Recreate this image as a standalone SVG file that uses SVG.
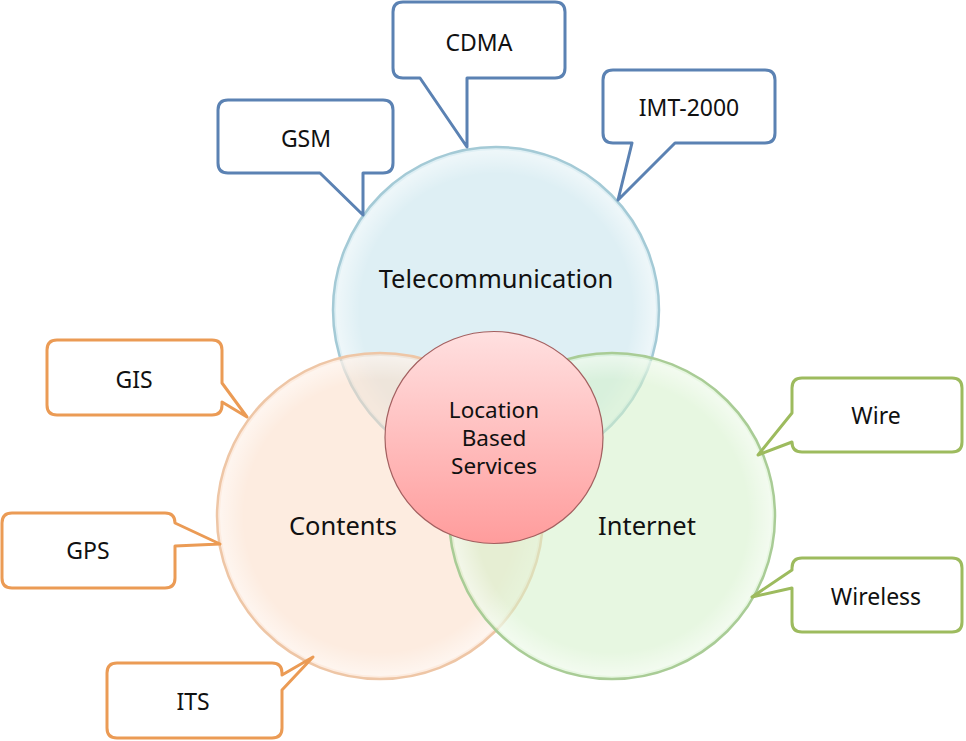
<svg xmlns="http://www.w3.org/2000/svg" width="966" height="741" viewBox="0 0 966 741">
<defs>
<linearGradient id="lbs" x1="0" y1="0" x2="0" y2="1">
<stop offset="0" stop-color="#ffe0e0"/>
<stop offset="1" stop-color="#ff9c9c"/>
</linearGradient>
<radialGradient id="gloss" cx="0.5" cy="0.5" r="0.5">
<stop offset="0.85" stop-color="#ffffff" stop-opacity="0"/>
<stop offset="1" stop-color="#ffffff" stop-opacity="0.5"/>
</radialGradient>
</defs>
<style>
text{font-family:"Noto Sans","Open Sans","Liberation Sans",sans-serif;fill:#111;text-anchor:middle}
.big{font-size:25.5px}
.lbl{font-size:23px}
.mid{font-size:22.5px}
.co{fill:#fff;stroke-width:3;stroke-linejoin:round}
.blue{stroke:#5b82b3}
.orange{stroke:#eb9b55}
.green{stroke:#9dbb5e}
</style>
<rect width="966" height="741" fill="#fff"/>
<g id="circles">
<g id="telecom">
<circle cx="496" cy="310" r="163" fill="#c2e1eb" fill-opacity="0.55" stroke="#a4cad6" stroke-width="2.5"/>
<circle cx="496" cy="310" r="160" fill="url(#gloss)"/>
</g>
<g id="contents">
<circle cx="380" cy="516" r="163" fill="#fbdcc6" fill-opacity="0.55" stroke="#eec6a6" stroke-width="2.5"/>
<circle cx="380" cy="516" r="160" fill="url(#gloss)"/>
</g>
<g id="internet">
<circle cx="612" cy="516" r="163" fill="#d3f1c8" fill-opacity="0.55" stroke="#a9cc96" stroke-width="2.5"/>
<circle cx="612" cy="516" r="160" fill="url(#gloss)"/>
</g>
<g id="lbs">
<ellipse cx="494" cy="437.5" rx="109" ry="106" fill="url(#lbs)" stroke="#a36060" stroke-width="1.2"/>
</g>
</g>
<g id="labels">
<text class="big" x="496" y="288">Telecommunication</text>
<text class="big" x="343" y="535">Contents</text>
<text class="big" x="647" y="535">Internet</text>
<text class="mid" x="494" y="418">Location</text>
<text class="mid" x="494" y="446">Based</text>
<text class="mid" x="494" y="474">Services</text>
</g>
<g id="callouts">
<g id="gsm"><path class="co blue" d="M228,100 H383 Q393,100 393,110 V163 Q393,173 383,173 H363 L363,215 L320,173 H228 Q218,173 218,163 V110 Q218,100 228,100 Z"/><text class="lbl" x="306" y="147">GSM</text></g>
<g id="cdma"><path class="co blue" d="M403,2 H555 Q565,2 565,12 V68 Q565,78 555,78 H467 L467,147 L420,78 H403 Q393,78 393,68 V12 Q393,2 403,2 Z"/><text class="lbl" x="479" y="51">CDMA</text></g>
<g id="imt"><path class="co blue" d="M613,70 H765 Q775,70 775,80 V133 Q775,143 765,143 H675 L618,200 L632,143 H613 Q603,143 603,133 V80 Q603,70 613,70 Z"/><text class="lbl" x="689" y="116">IMT-2000</text></g>
<g id="gis"><path class="co orange" d="M57,340 H212 Q222,340 222,350 V383 L247,417 L222,402 V405 Q222,415 212,415 H57 Q47,415 47,405 V350 Q47,340 57,340 Z"/><text class="lbl" x="134" y="388">GIS</text></g>
<g id="gps"><path class="co orange" d="M12,513 H165 Q175,513 175,523 L220,544 L175,546 V578 Q175,588 165,588 H12 Q2,588 2,578 V523 Q2,513 12,513 Z"/><text class="lbl" x="88" y="559">GPS</text></g>
<g id="its"><path class="co orange" d="M117,663 H272 Q282,663 282,673 V675 L313,657 L282,690 V728 Q282,738 272,738 H117 Q107,738 107,728 V673 Q107,663 117,663 Z"/><text class="lbl" x="193" y="710">ITS</text></g>
<g id="wire"><path class="co green" d="M802,378 H952 Q962,378 962,388 V442 Q962,452 952,452 H802 Q792,452 792,442 L758,455 L792,413 V388 Q792,378 802,378 Z"/><text class="lbl" x="876" y="424">Wire</text></g>
<g id="wireless"><path class="co green" d="M802,558 H952 Q962,558 962,568 V622 Q962,632 952,632 H802 Q792,632 792,622 V588 L752,597 L792,570 V568 Q792,558 802,558 Z"/><text class="lbl" x="876" y="605">Wireless</text></g>
</g>
</svg>
